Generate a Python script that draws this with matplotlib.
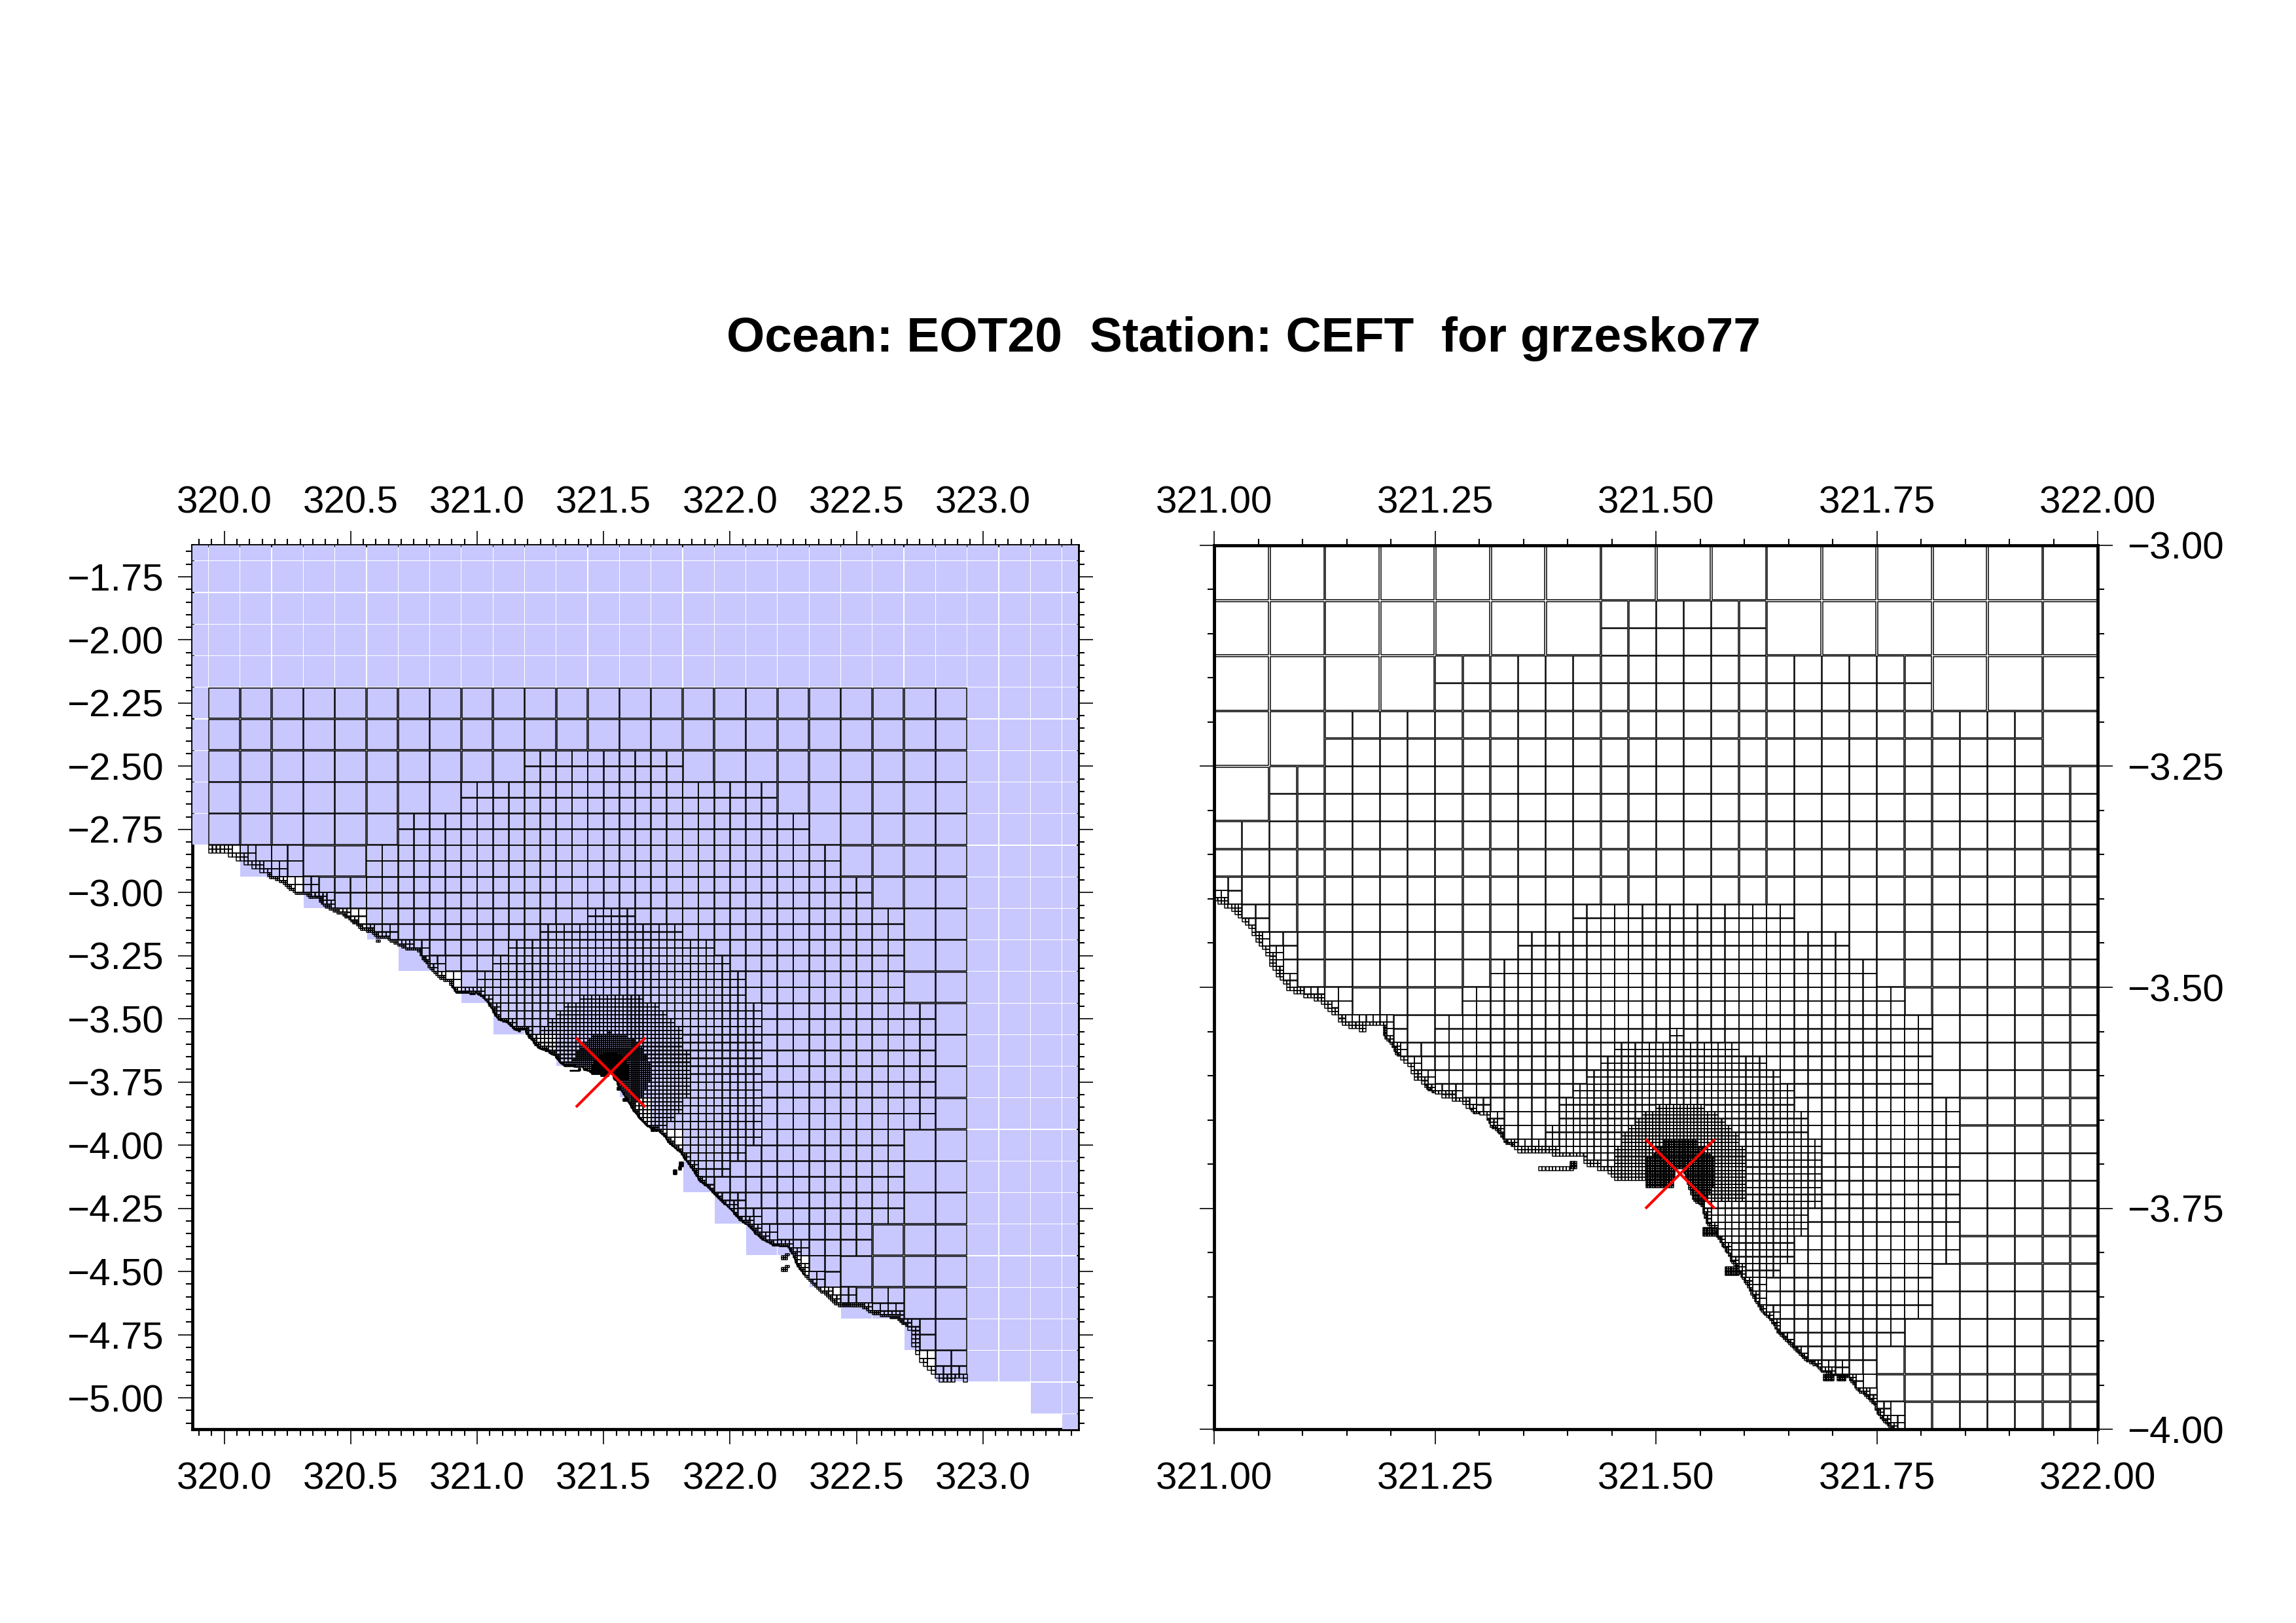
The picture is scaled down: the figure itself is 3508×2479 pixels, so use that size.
import numpy as np
import matplotlib
matplotlib.use("Agg")
import matplotlib.pyplot as plt
from matplotlib.collections import PolyCollection
from matplotlib.ticker import MultipleLocator

plt.rcParams['font.family'] = ['Liberation Sans', 'DejaVu Sans']

TITLE = "Ocean: EOT20  Station: CEFT  for grzesko77"

STATION_LON = 321.527
STATION_LAT = -3.711

# mesh origin and size of the coarsest cells
LON0 = 319.9375
LAT0 = -2.1875
BASE = 0.125
BASE_ROWS = 22
BASE_COLS = 24

# areas split further, (first row, last row, first col, end col) of the parent cells
REFINE_16 = [(2, 2, 10, 15), (3, 3, 8, 18), (4, 4, 6, 19), (5, 5, 5, 20), (6, 6, 3, 21),
             (7, 9, 0, 22), (10, 13, 0, 23), (14, 16, 0, 22), (17, 17, 0, 21),
             (18, 19, 0, 20), (19, 19, 20, 22), (20, 20, 22, 23), (21, 21, 23, 24)]
REFINE_32 = [(14, 14, 24, 27), (15, 15, 21, 30), (16, 16, 19, 32), (17, 17, 18, 33),
             (18, 18, 17, 34), (19, 19, 15, 34), (20, 28, 15, 35), (29, 29, 15, 34),
             (30, 30, 15, 33), (31, 31, 15, 32)]
REFINE_64 = [(39, 39, 47, 55), (40, 40, 45, 57), (41, 41, 44, 58), (42, 42, 43, 59),
             (43, 43, 42, 60), (44, 44, 41, 60), (45, 45, 40, 60), (46, 51, 40, 61),
             (52, 53, 40, 60), (54, 54, 40, 59), (55, 55, 40, 58)]
REFINE_128 = [(87, 87, 101, 102), (88, 88, 97, 106), (89, 89, 96, 108), (90, 90, 95, 109),
              (91, 91, 94, 110), (92, 92, 93, 110), (93, 93, 93, 111), (94, 94, 92, 111),
              (95, 99, 89, 112), (100, 101, 89, 111), (102, 103, 89, 110),
              (104, 104, 89, 109), (105, 105, 89, 108)]
REFINE_256 = [(185, 185, 200, 207), (186, 186, 198, 209), (187, 187, 197, 210),
              (188, 188, 196, 211), (189, 190, 195, 212), (191, 198, 194, 213)]
REFINE_512 = [(380, 381, 402, 412), (382, 383, 400, 414), (384, 384, 399, 416),
              (385, 393, 397, 417), (394, 395, 408, 416), (396, 399, 411, 415)]

COAST_LON = [319.90, 319.939, 320.002, 320.032, 320.062, 320.095, 320.127, 320.159, 320.175,
             320.218, 320.248, 320.287, 320.322, 320.339, 320.373, 320.391, 320.434, 320.468,
             320.520, 320.546, 320.581, 320.607, 320.641, 320.676, 320.719, 320.766, 320.788,
             320.822, 320.853, 320.887, 320.917, 320.982, 321.0006, 321.007, 321.019, 321.027,
             321.035, 321.043, 321.047, 321.058, 321.063, 321.071, 321.075, 321.082, 321.087,
             321.109, 321.121, 321.125, 321.129, 321.138, 321.142, 321.157, 321.171, 321.174,
             321.191, 321.192, 321.200, 321.207, 321.215, 321.219, 321.225, 321.228, 321.236,
             321.241, 321.252, 321.264, 321.280, 321.289, 321.295, 321.306, 321.313, 321.322,
             321.329, 321.339, 321.344, 321.383, 321.384, 321.416, 321.417, 321.428, 321.443,
             321.449, 321.460, 321.488, 321.489, 321.520, 321.521, 321.531, 321.537, 321.542,
             321.553, 321.554, 321.558, 321.570, 321.577, 321.581, 321.586, 321.592, 321.597,
             321.604, 321.608, 321.613, 321.619, 321.625, 321.631, 321.640, 321.647, 321.653,
             321.659, 321.668, 321.679, 321.686, 321.697, 321.718, 321.728, 321.735, 321.746,
             321.751, 321.756, 321.762, 321.768, 321.807, 321.824, 321.854, 321.880, 321.910,
             321.936, 321.971, 322.001, 322.040, 322.075, 322.100, 322.126, 322.174, 322.230,
             322.247, 322.265, 322.290, 322.316, 322.342, 322.377, 322.407, 322.437, 322.476,
             322.519, 322.558, 322.610, 322.658, 322.692, 322.718, 322.722, 322.740, 322.752,
             322.783, 322.813, 322.830, 322.873, 322.904, 322.938, 323.0]
COAST_LAT = [-2.846, -2.846, -2.846, -2.860, -2.874, -2.892, -2.906, -2.922, -2.939,
             -2.955, -2.978, -3.008, -3.008, -3.026, -3.026, -3.056, -3.077, -3.090,
             -3.129, -3.148, -3.157, -3.181, -3.181, -3.203, -3.224, -3.228, -3.267,
             -3.311, -3.343, -3.354, -3.397, -3.401, -3.400, -3.407, -3.410, -3.418,
             -3.429, -3.437, -3.446, -3.457, -3.473, -3.484, -3.492, -3.500, -3.505,
             -3.512, -3.516, -3.520, -3.527, -3.532, -3.539, -3.548, -3.550, -3.543,
             -3.544, -3.555, -3.565, -3.577, -3.582, -3.588, -3.599, -3.604, -3.610,
             -3.616, -3.620, -3.625, -3.631, -3.637, -3.643, -3.644, -3.658, -3.664,
             -3.676, -3.680, -3.686, -3.687, -3.692, -3.692, -3.697, -3.704, -3.707,
             -3.713, -3.720, -3.720, -3.726, -3.726, -3.706, -3.706, -3.726, -3.741,
             -3.748, -3.758, -3.768, -3.784, -3.795, -3.801, -3.812, -3.818, -3.828,
             -3.839, -3.846, -3.856, -3.867, -3.873, -3.879, -3.894, -3.900, -3.906,
             -3.912, -3.922, -3.927, -3.934, -3.938, -3.942, -3.956, -3.961, -3.971,
             -3.983, -3.989, -3.995, -4.000, -4.032, -4.060, -4.101, -4.144, -4.166,
             -4.191, -4.226, -4.252, -4.299, -4.321, -4.351, -4.373, -4.399, -4.403,
             -4.433, -4.476, -4.511, -4.537, -4.567, -4.593, -4.623, -4.640, -4.640,
             -4.640, -4.666, -4.679, -4.688, -4.714, -4.735, -4.779, -4.826, -4.861,
             -4.882, -4.921, -4.938, -4.938, -4.925, -4.938, -4.938]

# finest level reached along the coast, from each longitude eastwards
DEPTH_LON = [319.0, 320.17, 320.90, 321.19, 321.21, 321.24, 321.25, 321.29, 321.30, 321.31,
             321.34, 321.54, 321.78, 322.30, 322.70]
DEPTH_LEVEL = [3, 4, 5, 6, 5, 6, 5, 6, 5, 6, 5, 6, 5, 4, 3]

# small islands: lon from, lon to, lat from, lat to, level
ISLANDS = [(321.370, 321.403, -3.7035, -3.7065, 5), (321.403, 321.410, -3.698, -3.704, 6),
           (321.553, 321.570, -3.773, -3.780, 6), (321.580, 321.593, -3.818, -3.825, 6),
           (321.691, 321.701, -3.939, -3.944, 6), (321.706, 321.713, -3.939, -3.944, 6),
           (321.803, 321.816, -4.070, -4.083, 5), (321.798, 321.807, -4.088, -4.096, 5),
           (321.779, 321.788, -4.101, -4.114, 5), (322.222, 322.230, -4.430, -4.437, 4),
           (322.206, 322.220, -4.444, -4.451, 4), (322.222, 322.230, -4.477, -4.484, 4),
           (322.206, 322.220, -4.490, -4.497, 4), (320.604, 320.616, -3.189, -3.195, 4)]

# lower edge of the blue cells, one value per column from the west
BLUE_BOTTOM = [-2.8125, -2.8125, -2.9375, -2.9375, -3.0625, -3.0625, -3.1875, -3.3125, -3.3125,
               -3.4375, -3.5625, -3.5625, -3.6875, -3.6875, -3.8125, -3.9375, -4.1875, -4.3125,
               -4.4375, -4.4375, -4.5625, -4.6875, -4.6875, -4.8125, -4.9375, -4.9375, -4.9375,
               -5.0625, -5.1875]
BLUE_COLOR = "#c8c8ff"

LEFT_XLIM = (319.875, 323.375)
LEFT_YLIM = (-5.125, -1.625)
LEFT_XTICKS = [320.0, 320.5, 321.0, 321.5, 322.0, 322.5, 323.0]
LEFT_XLABELS = ["320.0", "320.5", "321.0", "321.5", "322.0", "322.5", "323.0"]
LEFT_YTICKS = [-1.75, -2.0, -2.25, -2.5, -2.75, -3.0, -3.25, -3.5, -3.75, -4.0, -4.25, -4.5, -4.75, -5.0]
LEFT_YLABELS = ["\u22121.75", "\u22122.00", "\u22122.25", "\u22122.50", "\u22122.75", "\u22123.00", "\u22123.25",
                "\u22123.50", "\u22123.75", "\u22124.00", "\u22124.25", "\u22124.50", "\u22124.75", "\u22125.00"]
RIGHT_XLIM = (321.0, 322.0)
RIGHT_YLIM = (-4.0, -3.0)
RIGHT_XTICKS = [321.0, 321.25, 321.5, 321.75, 322.0]
RIGHT_XLABELS = ["321.00", "321.25", "321.50", "321.75", "322.00"]
RIGHT_YTICKS = [-3.0, -3.25, -3.5, -3.75, -4.0]
RIGHT_YLABELS = ["\u22123.00", "\u22123.25", "\u22123.50", "\u22123.75", "\u22124.00"]

SHRINK = 0.967
BLUE_SHRINK = 0.976
COAST_REACH = 0.75


def expand(spans):
    out = set()
    for r0, r1, c0, c1 in spans:
        for r in range(r0, r1 + 1):
            for c in range(c0, c1):
                out.add((r, c))
    return out


refine = [expand(s) for s in (REFINE_16, REFINE_32, REFINE_64, REFINE_128, REFINE_256, REFINE_512)]
cx = np.array(COAST_LON)
cy = np.array(COAST_LAT)
sx = cx[1:] - cx[:-1]
sy = cy[1:] - cy[:-1]
slen = sx * sx + sy * sy


def coast_dist(lon, lat):
    t = np.clip(((lon - cx[:-1]) * sx + (lat - cy[:-1]) * sy) / slen, 0, 1)
    return np.hypot(cx[:-1] + t * sx - lon, cy[:-1] + t * sy - lat).min()


def square(lon0, lat0, d, shrink=SHRINK):
    m = d * (1 - shrink) / 2
    return [(lon0 + m, lat0 - m), (lon0 + d - m, lat0 - m), (lon0 + d - m, lat0 - d + m), (lon0 + m, lat0 - d + m)]


cells = []


def walk(level, row, col):
    d = BASE / 2 ** level
    lon0 = LON0 + col * d
    lat0 = LAT0 - row * d
    clon = lon0 + d / 2
    clat = lat0 - d / 2
    dist = coast_dist(clon, clat)
    land = clat < np.interp(clon, cx, cy)
    if land and dist > d:
        return
    split = level < len(refine) and (row, col) in refine[level]
    depth = DEPTH_LEVEL[np.searchsorted(DEPTH_LON, clon) - 1]
    if level < depth and dist < COAST_REACH * d:
        split = True
    if split:
        for i in range(2):
            for j in range(2):
                walk(level + 1, 2 * row + i, 2 * col + j)
    elif not land:
        cells.append(square(lon0, lat0, d))


for r in range(BASE_ROWS):
    for c in range(BASE_COLS):
        walk(0, r, c)

for lon_a, lon_b, lat_a, lat_b, level in ISLANDS:
    d = BASE / 2 ** level
    for c in range(int((lon_a - LON0) / d), int(np.ceil((lon_b - LON0) / d))):
        for r in range(int((LAT0 - lat_a) / d), int(np.ceil((LAT0 - lat_b) / d))):
            cells.append(square(LON0 + c * d, LAT0 - r * d, d))

blue = []
for k, bottom in enumerate(BLUE_BOTTOM):
    lon0 = LON0 + (k - 1) * BASE
    lat0 = -1.5625
    while lat0 > bottom + 1e-6:
        blue.append(square(lon0, lat0, BASE, BLUE_SHRINK))
        lat0 -= BASE


def draw_panel(ax, xlim, ylim, xticks, xlabels, yticks, ylabels, left_labels, with_blue):
    ax.set_xlim(xlim)
    ax.set_ylim(ylim)
    for s in ax.spines.values():
        s.set_linewidth(1.15)
        s.set_zorder(0.5)
    if with_blue:
        ax.add_collection(PolyCollection(blue, facecolors=BLUE_COLOR, edgecolors="none", zorder=1))
    ax.add_collection(PolyCollection(cells, facecolors="none", edgecolors="black", linewidths=0.36, zorder=2))
    ax.plot([STATION_LON], [STATION_LAT], marker="x", ms=25.3, mew=1.0, color="red", ls="none", zorder=3)
    ax.set_xticks(xticks, xlabels)
    ax.set_yticks(yticks, ylabels)
    ax.xaxis.set_minor_locator(MultipleLocator(0.05))
    ax.yaxis.set_minor_locator(MultipleLocator(0.05))
    ax.tick_params(which="both", direction="out", top=True, bottom=True, left=True, right=True,
                   labeltop=True, labelbottom=True, labelleft=left_labels, labelright=not left_labels)
    ax.tick_params(axis="x", which="major", length=5.4, width=0.4, labelsize=14, pad=6.3)
    ax.tick_params(axis="y", which="major", length=5.4, width=0.4, labelsize=14, pad=5.3)
    ax.tick_params(which="minor", length=2.5, width=0.5)
    for t in ax.xaxis.get_major_ticks():
        t.label2.set_va("baseline")


W = 3508
H = 2479
fig = plt.figure(figsize=(W / 300, H / 300), dpi=300)
ax1 = fig.add_axes([294.3 / W, 1 - 2183.3 / H, 1352.4 / W, 1350.6 / H])
ax2 = fig.add_axes([1855.3 / W, 1 - 2183.3 / H, 1350.0 / W, 1350.6 / H])
draw_panel(ax1, LEFT_XLIM, LEFT_YLIM, LEFT_XTICKS, LEFT_XLABELS, LEFT_YTICKS, LEFT_YLABELS, True, True)
draw_panel(ax2, RIGHT_XLIM, RIGHT_YLIM, RIGHT_XTICKS, RIGHT_XLABELS, RIGHT_YTICKS, RIGHT_YLABELS, False, False)
fig.text(1900 / W, 1 - 517 / H, TITLE, ha="center", va="center", fontsize=18, fontweight="bold")
fig.savefig("out.png", dpi=300)
